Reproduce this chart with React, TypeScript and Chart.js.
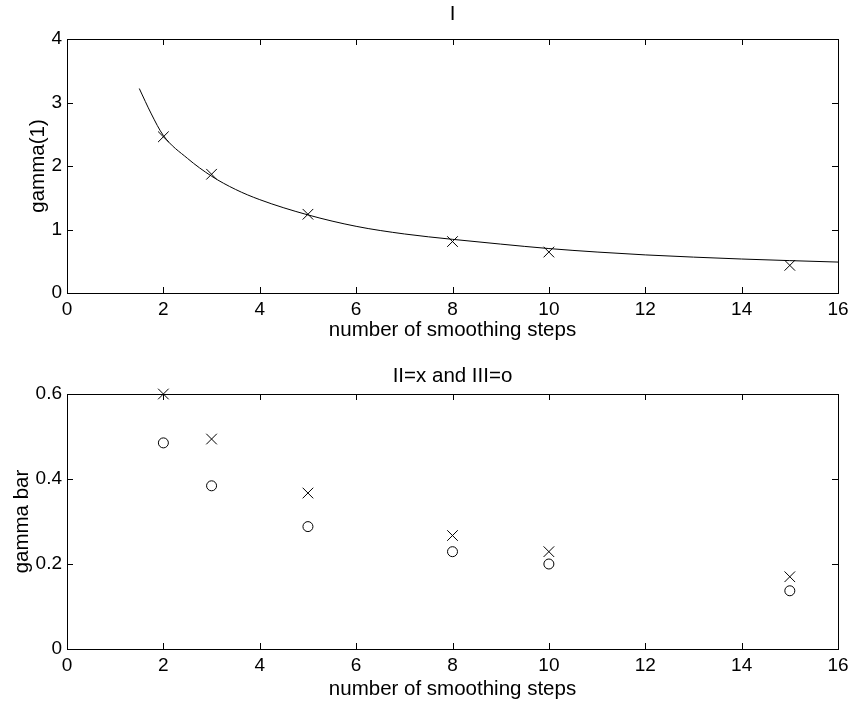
import React, { useEffect, useRef } from "react";
import { Chart, registerables } from "chart.js";

Chart.register(...registerables);

// Smoothing steps at which the runs were made
const steps = [2, 3, 5, 8, 10, 15];

// Panel I: measured gamma(1) and the fitted curve through them
const gamma1 = [2.46, 1.87, 1.24, 0.81, 0.645, 0.435];
const fitX = [1.5, 1.75, 2, 2.5, 3, 3.5, 4, 5, 6, 7, 8, 9, 10, 11, 12, 13, 14, 15, 16];
const fitY = [3.22, 2.82, 2.48, 2.12, 1.84, 1.63, 1.47, 1.23, 1.05, 0.93, 0.845, 0.77, 0.7, 0.645, 0.6, 0.565, 0.535, 0.51, 0.487];

// Panel II/III: gamma bar for method II (x) and method III (o)
const gammaBarII = [0.6, 0.494, 0.367, 0.267, 0.229, 0.17];
const gammaBarIII = [0.485, 0.384, 0.288, 0.229, 0.2, 0.137];

const FONT = "'Liberation Sans', Arial, Helvetica, sans-serif";
const TICK_FONT = 19;
const LABEL_FONT = 20.5;
const TICK_LEN = 6;

const W = 854;
const H = 352;

// Box around the plot area with inward tick marks on all four sides
const framePlugin = {
  id: "frameTicks",
  afterDatasetsDraw(chart: any) {
    const { ctx, chartArea, scales } = chart;
    const { left, right, top, bottom } = chartArea;
    const xs = scales.x;
    const ys = scales.y;
    ctx.save();
    ctx.strokeStyle = "#000";
    ctx.lineWidth = 1;
    ctx.beginPath();
    for (const t of xs.ticks) {
      const px = Math.round(xs.getPixelForValue(t.value)) + 0.5;
      if (px <= left + 1 || px >= right - 1) continue;
      ctx.moveTo(px, bottom);
      ctx.lineTo(px, bottom - TICK_LEN);
      ctx.moveTo(px, top);
      ctx.lineTo(px, top + TICK_LEN);
    }
    for (const t of ys.ticks) {
      const py = Math.round(ys.getPixelForValue(t.value)) + 0.5;
      if (py <= top + 1 || py >= bottom - 1) continue;
      ctx.moveTo(left, py);
      ctx.lineTo(left + TICK_LEN, py);
      ctx.moveTo(right, py);
      ctx.lineTo(right - TICK_LEN, py);
    }
    ctx.stroke();
    ctx.strokeRect(
      Math.round(left) + 0.5,
      Math.round(top) + 0.5,
      Math.round(right) - Math.round(left),
      Math.round(bottom) - Math.round(top)
    );
    ctx.restore();
  },
};

// Panel heading centred over the plot area
const makeHeading = (text: string, centerY: number) => ({
  id: "panelHeading",
  afterDraw(chart: any) {
    const { ctx, chartArea } = chart;
    ctx.save();
    ctx.fillStyle = "#000";
    ctx.font = `${LABEL_FONT}px ${FONT}`;
    ctx.textAlign = "center";
    ctx.textBaseline = "middle";
    ctx.fillText(text, (chartArea.left + chartArea.right) / 2, centerY);
    ctx.restore();
  },
});

type PanelProps = {
  title: string;
  titleY: number;
  plotTop: number;
  yLabel: string;
  yLabelPad: number;
  yMax: number;
  yStep: number;
  xAxisHeight: number;
  xLabelPad: number;
  datasets: any[];
};

function Panel(props: PanelProps) {
  const ref = useRef<HTMLCanvasElement | null>(null);

  useEffect(() => {
    if (!ref.current) return;
    const chart = new Chart(ref.current, {
      type: "scatter",
      data: { datasets: props.datasets },
      plugins: [framePlugin, makeHeading(props.title, props.titleY)],
      options: {
        responsive: false,
        animation: false,
        devicePixelRatio: 1,
        layout: { padding: { left: 0, right: 16, top: props.plotTop, bottom: 0 } },
        plugins: {
          legend: { display: false },
          tooltip: { enabled: false },
          title: { display: false },
        },
        scales: {
          x: {
            type: "linear",
            min: 0,
            max: 16,
            ticks: {
              stepSize: 2,
              color: "#000",
              padding: 5,
              maxRotation: 0,
              autoSkip: false,
              font: { family: FONT, size: TICK_FONT },
            },
            grid: { display: false, drawTicks: false },
            border: { display: false },
            title: {
              display: true,
              text: "number of smoothing steps",
              color: "#000",
              font: { family: FONT, size: LABEL_FONT, lineHeight: 1.2 },
              padding: { top: 0, bottom: props.xLabelPad },
            },
            afterFit(scale: any) {
              scale.height = props.xAxisHeight;
            },
          },
          y: {
            type: "linear",
            min: 0,
            max: props.yMax,
            ticks: {
              stepSize: props.yStep,
              color: "#000",
              padding: 5,
              autoSkip: false,
              font: { family: FONT, size: TICK_FONT },
            },
            grid: { display: false, drawTicks: false },
            border: { display: false },
            title: {
              display: true,
              text: props.yLabel,
              color: "#000",
              font: { family: FONT, size: LABEL_FONT, lineHeight: 1.2 },
              padding: { top: props.yLabelPad, bottom: 0 },
            },
            afterFit(scale: any) {
              scale.width = 67;
            },
          },
        },
      },
    } as any);
    return () => chart.destroy();
  }, []);

  return <canvas ref={ref} width={W} height={H} style={{ display: "block", width: W, height: H }} />;
}

const markerStyle = (style: string, radius: number) => ({
  showLine: false,
  pointStyle: style,
  pointRadius: radius,
  pointBorderColor: "#000",
  pointBackgroundColor: "rgba(0,0,0,0)",
  pointBorderWidth: 1,
  borderColor: "#000",
  clip: false,
});

export default function App() {
  const topSets = [
    {
      label: "fit",
      data: fitX.map((x, i) => ({ x, y: fitY[i] })),
      showLine: true,
      borderColor: "#000",
      borderWidth: 1,
      pointRadius: 0,
      cubicInterpolationMode: "monotone",
      fill: false,
    },
    {
      label: "gamma(1)",
      data: steps.map((x, i) => ({ x, y: gamma1[i] })),
      ...markerStyle("crossRot", 7.5),
    },
  ];

  const bottomSets = [
    {
      label: "II",
      data: steps.map((x, i) => ({ x, y: gammaBarII[i] })),
      ...markerStyle("crossRot", 7.5),
    },
    {
      label: "III",
      data: steps.map((x, i) => ({ x, y: gammaBarIII[i] })),
      ...markerStyle("circle", 5),
    },
  ];

  return (
    <div style={{ position: "absolute", left: 0, top: 0, width: W, height: 704, background: "#fff" }}>
      <Panel
        title="I"
        titleY={14}
        plotTop={39}
        yLabel="gamma(1)"
        yLabelPad={26}
        yMax={4}
        yStep={1}
        xAxisHeight={59}
        xLabelPad={9}
        datasets={topSets}
      />
      <Panel
        title="II=x and III=o"
        titleY={24}
        plotTop={42}
        yLabel="gamma bar"
        yLabelPad={10}
        yMax={0.6}
        yStep={0.2}
        xAxisHeight={55}
        xLabelPad={2}
        datasets={bottomSets}
      />
    </div>
  );
}
